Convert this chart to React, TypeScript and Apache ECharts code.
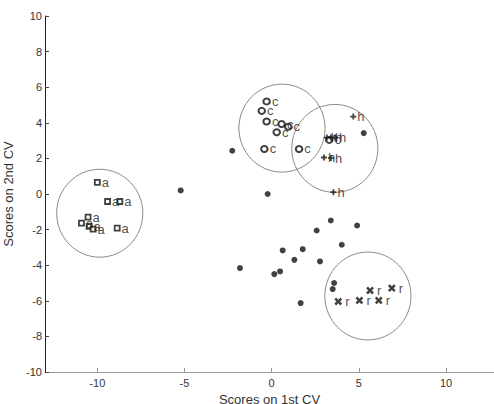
import React, { useEffect, useRef } from "react";
import * as echarts from "echarts";

const xTicks = [-10, -5, 0, 5, 10];

const aX = [-10.0, -9.41, -8.71, -10.53, -10.91, -10.47, -10.24, -8.86];
const aY = [0.65, -0.42, -0.42, -1.3, -1.64, -1.82, -1.97, -1.92];

const cX = [-0.29, -0.57, -0.29, 0.57, 0.95, 0.29, -0.42, 1.57, 3.3];
const cY = [5.2, 4.67, 4.07, 3.93, 3.78, 3.47, 2.53, 2.53, 3.04];

const hX = [4.68, 3.16, 3.4, 3.63, 3.0, 3.4, 3.54];
const hY = [4.35, 3.17, 3.17, 3.17, 2.05, 2.02, 0.1];

const rX = [3.82, 5.03, 5.64, 6.14, 6.89];
const rY = [-6.04, -5.98, -5.42, -5.98, -5.29];

const dX = [-5.22, -2.26, -0.23, 5.28, 3.39, 4.9, 2.58, 4.02, 0.63, 1.78, 1.3, 2.77, -1.82, 0.48, 0.15, 3.58, 3.5, 1.66];
const dY = [0.2, 2.43, 0.0, 3.42, -1.49, -1.77, -2.05, -2.85, -3.17, -3.1, -3.7, -3.79, -4.16, -4.35, -4.5, -5.0, -5.34, -6.13];

// cluster circles: centre x, centre y, radius (data units)
const circleCX = [-9.86, 0.59, 3.62, 5.52];
const circleCY = [-1.08, 3.7, 2.56, -5.73];
const circleR = [2.47, 2.47, 2.47, 2.47];

const PLUS =
  "path://M-1,-0.3H-0.3V-1H0.3V-0.3H1V0.3H0.3V1H-0.3V0.3H-1Z";

const FONT = "Liberation Sans, Arial, sans-serif";

function zip(xs: number[], ys: number[]) {
  return xs.map((x, i) => [x, ys[i]]);
}

export default function App() {
  const ref = useRef<HTMLDivElement>(null);
  useEffect(() => {
    if (!ref.current) return;
    const chart = echarts.init(ref.current, null, { renderer: "svg" });
    const labelFor = (t: string) => ({
      show: true,
      position: "right" as const,
      distance: 1,
      formatter: t,
      color: "#222",
      textBorderWidth: 0,
      textBorderColor: "transparent",
      fontSize: 13,
      fontFamily: FONT,
    });
    chart.setOption({
      animation: false,
      backgroundColor: "#fff",
      color: ["#111"],
      grid: { left: 45, right: 0, top: 16, bottom: 32, containLabel: false, outerBoundsMode: "none" },
      xAxis: {
        type: "value",
        min: -13,
        max: 12.75,
        name: "Scores on 1st CV",
        nameLocation: "middle",
        nameGap: 15,
        nameTextStyle: { fontSize: 13, color: "#333", fontFamily: FONT },
        axisLine: { show: true, onZero: false, lineStyle: { color: "#999", width: 1 } },
        axisTick: { show: true, inside: true, length: 4, customValues: xTicks, lineStyle: { color: "#999" } },
        axisLabel: { customValues: xTicks, fontSize: 11, color: "#333", fontFamily: FONT, margin: 5 },
        splitLine: { show: false },
      },
      yAxis: {
        type: "value",
        min: -10,
        max: 10,
        interval: 2,
        name: "Scores on 2nd CV",
        nameLocation: "middle",
        nameGap: 23,
        nameTextStyle: { fontSize: 13, color: "#333", fontFamily: FONT },
        axisLine: { show: true, onZero: false, lineStyle: { color: "#222", width: 1 } },
        axisTick: { show: true, inside: true, length: 4, lineStyle: { color: "#444" } },
        axisLabel: { fontSize: 11, color: "#333", fontFamily: FONT, margin: 3 },
        splitLine: { show: false },
      },
      series: [
        {
          type: "custom",
          data: circleCX.map((x, i) => [x, circleCY[i], circleR[i]]),
          renderItem: (params: any, api: any) => {
            const cx = api.value(0);
            const cy = api.value(1);
            const r = api.value(2);
            const c = api.coord([cx, cy]);
            const e = api.coord([cx + r, cy + r]);
            return {
              type: "ellipse",
              shape: { cx: c[0], cy: c[1], rx: e[0] - c[0], ry: c[1] - e[1] },
              style: { fill: "none", stroke: "#8a8a8a", lineWidth: 1 },
            };
          },
          silent: true,
          z: 1,
        },
        {
          type: "scatter",
          data: zip(dX, dY),
          symbol: "circle",
          symbolSize: 6,
          itemStyle: { color: "#111" },
          z: 3,
        },
        {
          type: "scatter",
          data: zip(aX, aY),
          symbol: "rect",
          symbolSize: 5,
          itemStyle: { color: "#fff", borderColor: "#111", borderWidth: 1.8 },
          label: labelFor("a"),
          z: 4,
        },
        {
          type: "scatter",
          data: zip(cX, cY),
          symbol: "circle",
          symbolSize: [6.5, 6],
          itemStyle: { color: "#fff", borderColor: "#111", borderWidth: 2 },
          label: labelFor("c"),
          z: 4,
        },
        {
          type: "scatter",
          data: zip(hX, hY),
          symbol: PLUS,
          symbolSize: 6,
          itemStyle: { color: "#111" },
          label: labelFor("h"),
          z: 4,
        },
        {
          type: "scatter",
          data: zip(rX, rY),
          symbol: PLUS,
          symbolSize: 8.5,
          symbolRotate: 45,
          itemStyle: { color: "#111" },
          label: labelFor("r"),
          z: 4,
        },
      ],
    });
    return () => chart.dispose();
  }, []);
  return (
    <div
      ref={ref}
      style={{ position: "fixed", left: 0, top: 0, width: 494, height: 404, background: "#fff" }}
    />
  );
}
